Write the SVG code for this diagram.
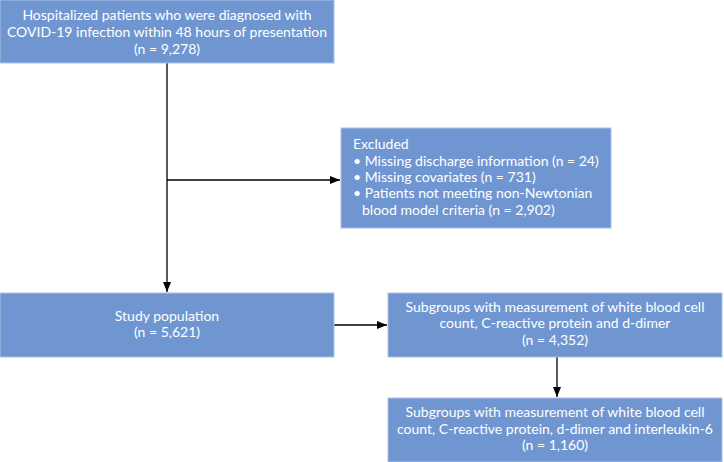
<svg xmlns="http://www.w3.org/2000/svg" width="724" height="462" viewBox="0 0 724 462">
<defs>
<marker id="arr" markerWidth="10" markerHeight="8" refX="10" refY="4" orient="auto" markerUnits="userSpaceOnUse">
<path d="M0,0 L10,4 L0,8 Z" fill="#000"/>
</marker>
<style>
.box{fill:#7096D1;stroke:#A9BFE6;stroke-width:1}
.t{font-family:Lato,"Open Sans",sans-serif;font-size:14px;fill:#fff}
.c{text-anchor:middle}
.ln{stroke:#000;stroke-width:1.3;fill:none}
</style>
</defs>
<rect width="724" height="462" fill="#fff"/>
<g id="connectors">
<line class="ln" x1="167" y1="63" x2="167" y2="292" marker-end="url(#arr)"/>
<line class="ln" x1="167" y1="180" x2="340" y2="180" marker-end="url(#arr)"/>
<line class="ln" x1="334" y1="325" x2="387" y2="325" marker-end="url(#arr)"/>
<line class="ln" x1="557" y1="357" x2="557" y2="397" marker-end="url(#arr)"/>
</g>
<g id="n1">
<rect class="box" x="0" y="0" width="334" height="63"/>
<text class="t c" x="167" y="20">Hospitalized patients who were diagnosed with</text>
<text class="t c" x="167" y="37">COVID-19 infection within 48 hours of presentation</text>
<text class="t c" x="167" y="54">(n = 9,278)</text>
</g>
<g id="n2">
<rect class="box" x="341" y="128" width="270" height="100"/>
<text class="t" x="353" y="149">Excluded</text>
<text class="t" x="353" y="166">• Missing discharge information (n = 24)</text>
<text class="t" x="353" y="182">• Missing covariates (n = 731)</text>
<text class="t" x="353" y="198">• Patients not meeting non-Newtonian</text>
<text class="t" x="362" y="215">blood model criteria (n = 2,902)</text>
</g>
<g id="n3">
<rect class="box" x="0" y="293" width="334" height="64"/>
<text class="t c" x="167" y="321">Study population</text>
<text class="t c" x="167" y="337">(n = 5,621)</text>
</g>
<g id="n4">
<rect class="box" x="388" y="293" width="334" height="64"/>
<text class="t c" x="555" y="312">Subgroups with measurement of white blood cell</text>
<text class="t c" x="555" y="328">count, C-reactive protein and d-dimer</text>
<text class="t c" x="555" y="345">(n = 4,352)</text>
</g>
<g id="n5">
<rect class="box" x="388" y="398" width="334" height="64"/>
<text class="t c" x="555" y="417">Subgroups with measurement of white blood cell</text>
<text class="t c" x="555" y="434">count, C-reactive protein, d-dimer and interleukin-6</text>
<text class="t c" x="555" y="450">(n = 1,160)</text>
</g>
</svg>
